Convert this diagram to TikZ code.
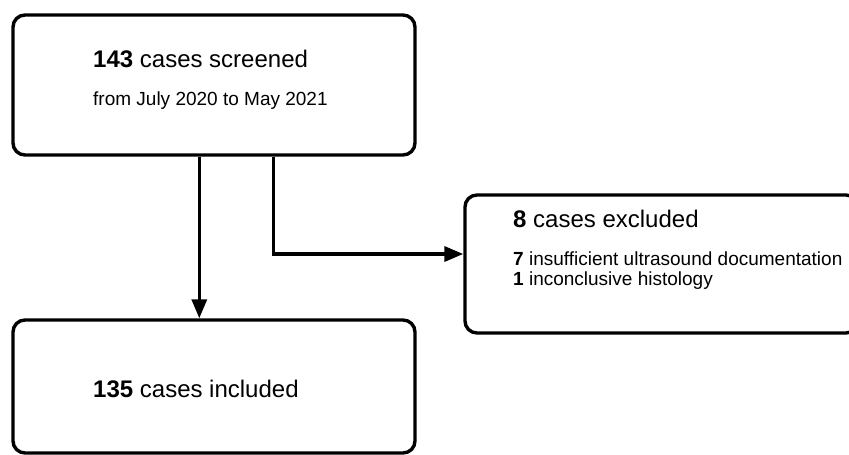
\documentclass[tikz,border=0pt]{standalone}
\usepackage{fontspec}
\setmainfont{Liberation Sans}
\usetikzlibrary{arrows.meta, positioning, calc}

\begin{document}
\begin{tikzpicture}[
    x=1pt, y=-1pt,
    box/.style={rectangle, rounded corners=12pt, draw, line width=3.4pt},
    head/.style={anchor=base west, inner sep=0pt,
                 font=\fontsize{24}{28}\selectfont},
    sub/.style={anchor=base west, inner sep=0pt,
                font=\fontsize{19}{20}\selectfont},
    arrow/.style={-{Triangle[length=19pt, width=15pt]}, line width=3.4pt},
  ]
  \useasboundingbox (0,0) rectangle (849,455);
  \clip (0,0) rectangle (849,455);

  % boxes
  \node[box, minimum width=402pt, minimum height=140pt] (screened) at (214,85) {};
  \node[box, minimum width=402pt, minimum height=133pt] (included) at (214,386.5) {};
  \node[box, minimum width=393pt, minimum height=138pt] (excluded) at (661.5,264) {};

  % texts
  \node[head] (screenedtxt) at (93,67) {\textbf{143} cases screened};
  \node[sub] (periodtxt) at (93,105) {from July 2020 to May 2021};
  \node[head] (excludedtxt) at (513,227) {\textbf{8} cases excluded};
  \node[sub] (reasonone) at (513,265) {\textbf{7} insufficient ultrasound documentation};
  \node[sub] (reasontwo) at (513,285) {\textbf{1} inconclusive histology};
  \node[head] (includedtxt) at (93,397) {\textbf{135} cases included};

  % connectors
  \draw[arrow] ([xshift=188pt]screened.south west) -- ([xshift=188pt]included.north west);
  \draw[arrow] ([xshift=262pt]screened.south west) |- ([yshift=10pt]excluded.west);
\end{tikzpicture}
\end{document}
